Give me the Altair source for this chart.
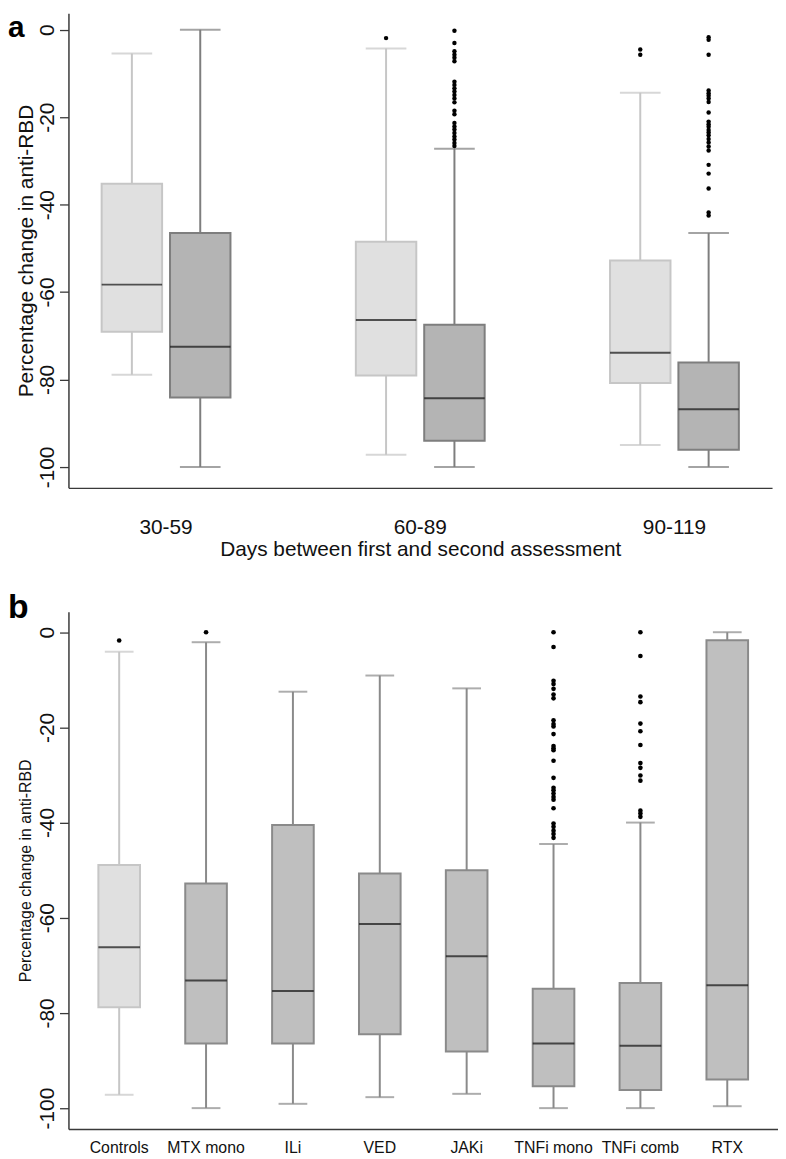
import altair as alt
import pandas as pd

FONT = "Liberation Sans"

# ---------------- Panel a data ----------------
panel_letters = ["a", "b"]
day_groups = ["30-59", "60-89", "90-119"]
cohorts = ["Controls", "Patients"]
a_group = ["30-59", "30-59", "60-89", "60-89", "90-119", "90-119"]
a_cohort = ["Controls", "Patients", "Controls", "Patients", "Controls", "Patients"]
a_lower = [-78.9, -100.0, -97.2, -100.0, -95.0, -100.0]
a_q1 = [-69.1, -84.1, -79.1, -94.0, -80.8, -96.1]
a_median = [-58.3, -72.5, -66.4, -84.3, -73.9, -86.8]
a_q3 = [-35.2, -46.5, -48.5, -67.5, -52.8, -76.1]
a_upper = [-5.4, 0.0, -4.3, -27.2, -14.4, -46.5]

a_out_ctrl_60 = [-1.9]
a_out_pat_60 = [-0.2, -3.0, -4.9, -5.7, -6.4, -7.2, -11.9, -12.6, -13.4, -14.1,
                -14.9, -15.7, -16.6, -18.5, -19.3, -21.3, -22.1, -22.8, -23.6,
                -24.4, -25.1, -25.9, -26.6]
a_out_ctrl_90 = [-4.5, -5.7]
a_out_pat_90 = [-1.7, -2.3, -5.7, -13.9, -14.5, -15.1, -15.7, -16.5, -18.9, -21.0,
                -21.6, -22.2, -22.9, -23.5, -24.1, -25.0, -25.8, -26.7, -27.6,
                -30.9, -32.9, -36.3, -41.8, -42.5]

# ---------------- Panel b data ----------------
treatments = ["Controls", "MTX mono", "ILi", "VED", "JAKi", "TNFi mono", "TNFi comb", "RTX"]
b_lower = [-97.2, -100.0, -99.1, -97.7, -97.0, -100.0, -100.0, -99.6]
b_q1 = [-78.8, -86.4, -86.4, -84.5, -88.1, -95.4, -96.2, -94.0]
b_median = [-66.2, -73.2, -75.4, -61.3, -68.1, -86.4, -86.9, -74.2]
b_q3 = [-48.9, -52.8, -40.5, -50.7, -50.0, -74.9, -73.7, -1.7]
b_upper = [-4.1, -2.1, -12.5, -9.1, -11.8, -44.5, -40.0, 0.0]

b_out_controls = [-1.75]
b_out_mtx = [0.0]
b_out_tnfi_mono = [0.0, -3.1, -10.2, -10.9, -11.9, -13.1, -13.9, -18.5, -19.3, -19.8,
                   -21.4, -23.9, -24.4, -24.8, -27.0, -30.6, -32.7, -33.2, -33.9,
                   -34.6, -35.2, -37.0, -40.2, -40.9, -41.7, -42.4, -43.2]
b_out_tnfi_comb = [0.0, -5.0, -13.5, -14.7, -19.2, -20.8, -23.7, -27.5, -28.5, -30.1,
                   -31.2, -37.5, -38.1, -38.8]

y_ticks = [0, -20, -40, -60, -80, -100]

# ---------------- colours ----------------
LIGHT_FILL, LIGHT_LINE = "#e0e0e0", "#c6c6c6"
A_DARK_FILL, A_DARK_LINE = "#b4b4b4", "#7e7e7e"
B_DARK_FILL, B_DARK_LINE = "#bfbfbf", "#8a8a8a"
AXIS_COL = "#3a3a3a"

# ---------------- tables ----------------
df_a = pd.DataFrame({"group": a_group, "cohort": a_cohort, "lower": a_lower, "q1": a_q1,
                     "median": a_median, "q3": a_q3, "upper": a_upper})
out_a_rows = []
for g, c, vals in [("60-89", "Controls", a_out_ctrl_60), ("60-89", "Patients", a_out_pat_60),
                   ("90-119", "Controls", a_out_ctrl_90), ("90-119", "Patients", a_out_pat_90)]:
    for v in vals:
        out_a_rows.append({"group": g, "cohort": c, "value": v})
df_a_out = pd.DataFrame(out_a_rows)

df_b = pd.DataFrame({"treatment": treatments, "lower": b_lower, "q1": b_q1, "median": b_median,
                     "q3": b_q3, "upper": b_upper})
out_b_rows = []
for t, vals in [("Controls", b_out_controls), ("MTX mono", b_out_mtx),
                ("TNFi mono", b_out_tnfi_mono), ("TNFi comb", b_out_tnfi_comb)]:
    for v in vals:
        out_b_rows.append({"treatment": t, "value": v})
df_b_out = pd.DataFrame(out_b_rows)

Y_TITLE = "Percentage change in anti-RBD"


def y_axis(title_size, title_pad):
    return alt.Axis(values=y_ticks, title=Y_TITLE, grid=False,
                    labelExpr="'' + datum.value",
                    labelAngle=270, labelAlign="center", labelBaseline="middle",
                    labelFont=FONT, labelFontSize=21, labelColor="#111111", labelPadding=12,
                    tickSize=9, tickColor=AXIS_COL, tickWidth=1.3,
                    domainColor=AXIS_COL, domainWidth=1.5,
                    titleFont=FONT, titleFontSize=title_size, titleFontWeight="normal",
                    titleColor="#111111", titlePadding=title_pad)


# ---------------- Panel a ----------------
ya_scale = alt.Scale(domain=[-104.8, 3.8], nice=False, zero=False)
ya_axis = y_axis(21, 0)
xa = alt.X("group:N", sort=day_groups,
           scale=alt.Scale(paddingInner=0.5, paddingOuter=0.134),
           axis=alt.Axis(title="Days between first and second assessment", labelAngle=0,
                         ticks=False, tickSize=0, labelPadding=29, labelFont=FONT,
                         labelFontSize=21, labelColor="#111111",
                         domainColor=AXIS_COL, domainWidth=1.5,
                         titleFont=FONT, titleFontSize=21, titleFontWeight="normal",
                         titleColor="#111111", titlePadding=1))
xoff_a = alt.XOffset("cohort:N", sort=cohorts,
                     scale=alt.Scale(paddingInner=0.141, paddingOuter=0))
a_line_scale = alt.Scale(domain=cohorts, range=[LIGHT_LINE, A_DARK_LINE])
a_fill_scale = alt.Scale(domain=cohorts, range=[LIGHT_FILL, A_DARK_FILL])

base_a = alt.Chart(df_a).encode(x=xa, xOffset=xoff_a)
whisk_a = base_a.mark_rule(strokeWidth=2).encode(
    y=alt.Y("lower:Q", scale=ya_scale, axis=ya_axis), y2="upper:Q",
    stroke=alt.Stroke("cohort:N", scale=a_line_scale, legend=None))
cap_lo_a = base_a.mark_tick(size=41, thickness=2, orient="horizontal").encode(
    y=alt.Y("lower:Q", scale=ya_scale),
    color=alt.Color("cohort:N", scale=a_line_scale, legend=None))
cap_hi_a = base_a.mark_tick(size=41, thickness=2, orient="horizontal").encode(
    y=alt.Y("upper:Q", scale=ya_scale),
    color=alt.Color("cohort:N", scale=a_line_scale, legend=None))
box_a = base_a.mark_bar(size=61, strokeWidth=2).encode(
    y=alt.Y("q1:Q", scale=ya_scale), y2="q3:Q",
    fill=alt.Fill("cohort:N", scale=a_fill_scale, legend=None),
    stroke=alt.Stroke("cohort:N", scale=a_line_scale, legend=None))
med_a = base_a.mark_tick(size=61, thickness=2, orient="horizontal", color="#111111").encode(
    y=alt.Y("median:Q", scale=ya_scale))
pts_a = alt.Chart(df_a_out).mark_circle(size=20, color="black", opacity=1).encode(
    x=xa, xOffset=xoff_a, y=alt.Y("value:Q", scale=ya_scale))
letter_a = alt.Chart(pd.DataFrame({"letter": [panel_letters[0]]})).mark_text(
    align="left", baseline="alphabetic", font=FONT, fontSize=30, fontWeight="bold",
    color="black").encode(text="letter:N", x=alt.value(-61), y=alt.value(24))

panel_a = alt.layer(whisk_a, cap_lo_a, cap_hi_a, box_a, med_a, pts_a, letter_a).properties(
    width=710, height=479)

# ---------------- Panel b ----------------
yb_scale = alt.Scale(domain=[-104.4, 4.3], nice=False, zero=False)
yb_axis = y_axis(16, 3.5)
xb = alt.X("treatment:N", sort=treatments,
           scale=alt.Scale(paddingInner=0, paddingOuter=0.084),
           axis=alt.Axis(title=None, labelAngle=0, ticks=False, tickSize=0, labelPadding=11,
                         labelFont=FONT, labelFontSize=16, labelColor="#111111",
                         domainColor=AXIS_COL, domainWidth=1.5))
b_line_scale = alt.Scale(domain=treatments, range=[LIGHT_LINE] + [B_DARK_LINE] * 7)
b_fill_scale = alt.Scale(domain=treatments, range=[LIGHT_FILL] + [B_DARK_FILL] * 7)

base_b = alt.Chart(df_b).encode(x=xb)
whisk_b = base_b.mark_rule(strokeWidth=2).encode(
    y=alt.Y("lower:Q", scale=yb_scale, axis=yb_axis), y2="upper:Q",
    stroke=alt.Stroke("treatment:N", scale=b_line_scale, legend=None))
cap_lo_b = base_b.mark_tick(size=29, thickness=2, orient="horizontal").encode(
    y=alt.Y("lower:Q", scale=yb_scale),
    color=alt.Color("treatment:N", scale=b_line_scale, legend=None))
cap_hi_b = base_b.mark_tick(size=29, thickness=2, orient="horizontal").encode(
    y=alt.Y("upper:Q", scale=yb_scale),
    color=alt.Color("treatment:N", scale=b_line_scale, legend=None))
box_b = base_b.mark_bar(size=42, strokeWidth=2).encode(
    y=alt.Y("q1:Q", scale=yb_scale), y2="q3:Q",
    fill=alt.Fill("treatment:N", scale=b_fill_scale, legend=None),
    stroke=alt.Stroke("treatment:N", scale=b_line_scale, legend=None))
med_b = base_b.mark_tick(size=42, thickness=2, orient="horizontal", color="#111111").encode(
    y=alt.Y("median:Q", scale=yb_scale))
pts_b = alt.Chart(df_b_out).mark_circle(size=22, color="black", opacity=1).encode(
    x=xb, y=alt.Y("value:Q", scale=yb_scale))
letter_b = alt.Chart(pd.DataFrame({"letter": [panel_letters[1]]})).mark_text(
    align="left", baseline="alphabetic", font=FONT, fontSize=34, fontWeight="bold",
    color="black").encode(text="letter:N", x=alt.value(-61), y=alt.value(6))

panel_b = alt.layer(whisk_b, cap_lo_b, cap_hi_b, box_b, med_b, pts_b, letter_b).properties(
    width=716, height=522)

chart = alt.vconcat(panel_a, panel_b, spacing=32).resolve_scale(
    color="independent", fill="independent", stroke="independent"
).properties(padding=0).configure_view(stroke=None)

chart.save("out.html", embed_options={"renderer": "svg", "actions": False})
